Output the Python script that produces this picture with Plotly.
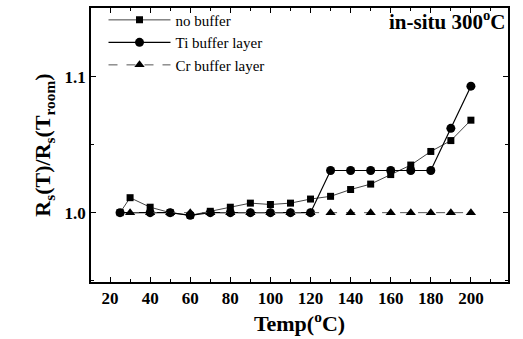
import plotly.graph_objects as go

# Data
nb_x = [25, 30, 40, 50, 60, 70, 80, 90, 100, 110, 120, 130, 140, 150, 160, 170, 180, 190, 200]
nb_y = [1.000, 1.011, 1.004, 1.000, 0.998, 1.001, 1.004, 1.007, 1.006, 1.007, 1.010, 1.012, 1.017, 1.021, 1.028, 1.035, 1.045, 1.053, 1.068]

ti_x = [25, 40, 50, 60, 70, 80, 90, 100, 110, 120, 130, 140, 150, 160, 170, 180, 190, 200]
ti_y = [1.000, 1.000, 1.000, 0.998, 1.000, 1.000, 1.000, 1.000, 1.000, 1.000, 1.031, 1.031, 1.031, 1.031, 1.031, 1.031, 1.062, 1.093]

cr_x = [30, 40, 50, 60, 70, 80, 90, 100, 110, 120, 130, 140, 150, 160, 170, 180, 190, 200]
cr_y = [1.000] * 18

x_ticks = [20, 40, 60, 80, 100, 120, 140, 160, 180, 200, 220]
y_ticks = [1.0, 1.1]

serif = "Liberation Serif"

fig = go.Figure()
fig.add_trace(go.Scatter(x=nb_x, y=nb_y, mode="lines+markers", name="no buffer",
                         line=dict(color="#444444", width=1),
                         marker=dict(symbol="square", size=7, color="black")))
fig.add_trace(go.Scatter(x=ti_x, y=ti_y, mode="lines+markers", name="Ti buffer layer",
                         line=dict(color="black", width=1.2),
                         marker=dict(symbol="circle", size=9, color="black")))
fig.add_trace(go.Scatter(x=cr_x, y=cr_y, mode="lines+markers", name="Cr buffer layer",
                         line=dict(color="#555555", width=1, dash="dash"),
                         marker=dict(symbol="triangle-up", size=9, color="black")))

fig.add_annotation(x=0.997, y=0.955, xref="paper", yref="paper", xanchor="right", yanchor="middle",
                   text="<b>in-situ 300<sup>o</sup>C</b>", showarrow=False,
                   font=dict(family=serif, size=21, color="black"))

axis_common = dict(showline=True, linecolor="black", linewidth=1.5, mirror="ticks",
                   ticks="inside", ticklen=5, tickcolor="black", showgrid=False, zeroline=False,
                   tickfont=dict(family=serif, size=17, color="black"))

fig.update_layout(
    width=523, height=339,
    margin=dict(l=91, r=15, t=8, b=57, autoexpand=False),
    paper_bgcolor="white", plot_bgcolor="white",
    font=dict(family=serif, color="black"),
    showlegend=True,
    legend=dict(x=0.03, y=1.016, xanchor="left", yanchor="top", bgcolor="rgba(0,0,0,0)",
                font=dict(family=serif, size=15, color="black"), tracegroupgap=0,
                itemwidth=62),
    xaxis=dict(range=[10.5, 218.5], tickvals=x_ticks, ticktext=[f"<b>{v}</b>" for v in x_ticks],
               minor=dict(dtick=10, ticks="inside", ticklen=3, tickcolor="black"),
               title=dict(text="<b>Temp(<sup>o</sup>C)</b>", font=dict(family=serif, size=22, color="black"),
                          standoff=2),
               **axis_common),
    yaxis=dict(range=[0.949, 1.1505], tickvals=y_ticks, ticktext=["<b>1.0</b>", "<b>1.1</b>"],
               minor=dict(dtick=0.05, ticks="inside", ticklen=3, tickcolor="black"),
               title=dict(text="<b>R<sub>s</sub>(T)/R<sub>s</sub>(T<sub>room</sub>)</b>",
                          font=dict(family=serif, size=22, color="black"), standoff=8),
               **axis_common),
)

fig.write_html("out.html")
